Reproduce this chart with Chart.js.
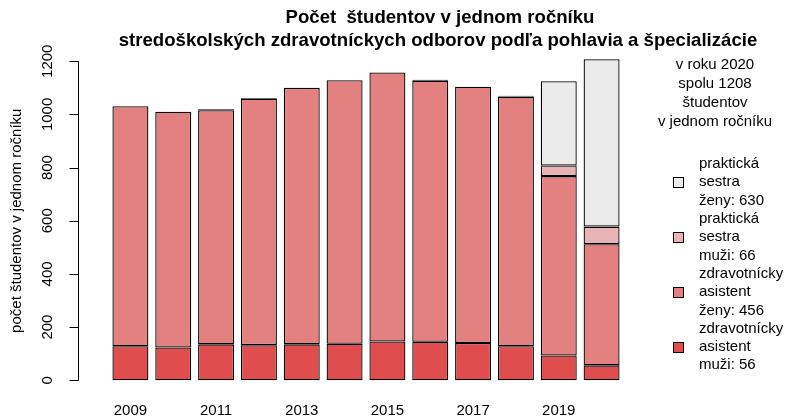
<!DOCTYPE html>
<html>
<head>
<meta charset="utf-8">
<script src="https://cdn.jsdelivr.net/npm/chart.js@4/dist/chart.umd.min.js"></script>
<style>
  body { margin: 0; background: #fff; }
  #wrap { width: 789px; height: 420px; }
</style>
</head>
<body>
<div id="wrap"><canvas id="firstChart"></canvas></div>
<script>
const years = ['2009','2010','2011','2012','2013','2014','2015','2016','2017','2018','2019','2020'];
const zaMuzi = [128, 123, 135, 132, 135, 137, 146, 145, 140, 128, 93, 56];
const zaZeny = [903, 887, 881, 927, 965, 992, 1012, 982, 964, 939, 675, 456];
const psMuzi = [0, 0, 0, 0, 0, 0, 0, 0, 0, 0, 40, 66];
const psZeny = [0, 0, 3, 3, 0, 0, 0, 3, 0, 3, 317, 630];
const yTicks = [0, 200, 400, 600, 800, 1000, 1200];

const titleLines = ['Počet  študentov v jednom ročníku',
                    'stredoškolských zdravotníckych odborov podľa pohlavia a špecializácie'];
const yTitle = 'počet študentov v jednom ročníku';
const noteLines = ['v roku 2020', 'spolu 1208', 'študentov', 'v jednom ročníku'];
const legendItems = [
    { lines: ['praktická', 'sestra', 'ženy: 630'], color: '#EBEBEB' },
    { lines: ['praktická', 'sestra', 'muži: 66'], color: '#E8B3B5' },
    { lines: ['zdravotnícky', 'asistent', 'ženy: 456'], color: '#E38080' },
    { lines: ['zdravotnícky', 'asistent', 'muži: 56'], color: '#DF4D4F' }
];

const FONT = '"Liberation Sans", Arial, sans-serif';

// draws the R-style bits: title, y axis, note and legend
const extras = {
    id: 'extras',
    afterDraw(chart) {
        const ctx = chart.ctx;
        const y = chart.scales.y;
        ctx.save();
        ctx.fillStyle = '#000';
        ctx.strokeStyle = '#000';
        ctx.lineWidth = 1;

        ctx.font = 'bold 18.6px ' + FONT;
        ctx.textAlign = 'center';
        ctx.textBaseline = 'middle';
        ctx.fillText(titleLines[0], 440, 18);
        ctx.fillText(titleLines[1], 438, 41);

        // y axis
        const x0 = 78.5;
        ctx.beginPath();
        ctx.moveTo(x0, Math.round(y.getPixelForValue(0)) + 0.5);
        ctx.lineTo(x0, Math.round(y.getPixelForValue(1200)) + 0.5);
        for (const v of yTicks) {
            const py = Math.round(y.getPixelForValue(v)) + 0.5;
            ctx.moveTo(x0, py);
            ctx.lineTo(x0 - 9, py);
        }
        ctx.stroke();
        ctx.font = '15px ' + FONT;
        for (const v of yTicks) {
            const py = y.getPixelForValue(v);
            ctx.save();
            ctx.translate(48, py);
            ctx.rotate(-Math.PI / 2);
            ctx.fillText(String(v), 0, 0);
            ctx.restore();
        }
        ctx.save();
        ctx.translate(17, (y.getPixelForValue(0) + y.getPixelForValue(1200)) / 2);
        ctx.rotate(-Math.PI / 2);
        ctx.fillText(yTitle, 0, 0);
        ctx.restore();

        // note on the right
        noteLines.forEach((t, i) => ctx.fillText(t, 715, 65 + i * 19));

        // legend
        ctx.textAlign = 'left';
        let ty = 164;
        for (const item of legendItems) {
            item.lines.forEach((t, i) => ctx.fillText(t, 699, ty + i * 18.3));
            const by = ty + 18.3;
            ctx.fillStyle = item.color;
            ctx.fillRect(673.5, Math.round(by - 5) + 0.5, 10, 10);
            ctx.strokeRect(673.5, Math.round(by - 5) + 0.5, 10, 10);
            ctx.fillStyle = '#000';
            ty += 3 * 18.3;
        }
        ctx.restore();
    }
};

function ds(label, data, color) {
    return {
        label: label,
        data: data,
        backgroundColor: color,
        borderColor: '#000',
        borderWidth: 1.3,
        borderSkipped: false,
        categoryPercentage: 1,
        barPercentage: 0.84
    };
}

function chart() {
    const ctx = document.getElementById('firstChart');
    new Chart(ctx, {
        type: 'bar',
        data: {
            labels: years,
            datasets: [
                ds('zdravotnícky asistent muži', zaMuzi, legendItems[3].color),
                ds('zdravotnícky asistent ženy', zaZeny, legendItems[2].color),
                ds('praktická sestra muži', psMuzi, legendItems[1].color),
                ds('praktická sestra ženy', psZeny, legendItems[0].color)
            ]
        },
        options: {
            responsive: true,
            maintainAspectRatio: false,
            animation: false,
            devicePixelRatio: 1,
            layout: { padding: { left: 109, right: 166, top: 48.5, bottom: -9 } },
            plugins: {
                legend: { display: false },
                title: { display: false },
                tooltip: { enabled: false }
            },
            scales: {
                x: {
                    stacked: true,
                    grid: { display: false, drawTicks: false },
                    border: { display: false },
                    ticks: {
                        autoSkip: false,
                        maxRotation: 0,
                        padding: 9,
                        color: '#000',
                        font: { family: FONT, size: 15 },
                        callback: function (value, index) {
                            return index % 2 === 0 ? this.getLabelForValue(value) : '';
                        }
                    }
                },
                y: {
                    stacked: true,
                    display: false,
                    min: -48,
                    max: 1248,
                    afterBuildTicks: (scale) => {
                        scale.ticks = yTicks.map(v => ({ value: v }));
                    }
                }
            }
        },
        plugins: [extras]
    });
}

chart();
</script>
</body>
</html>
